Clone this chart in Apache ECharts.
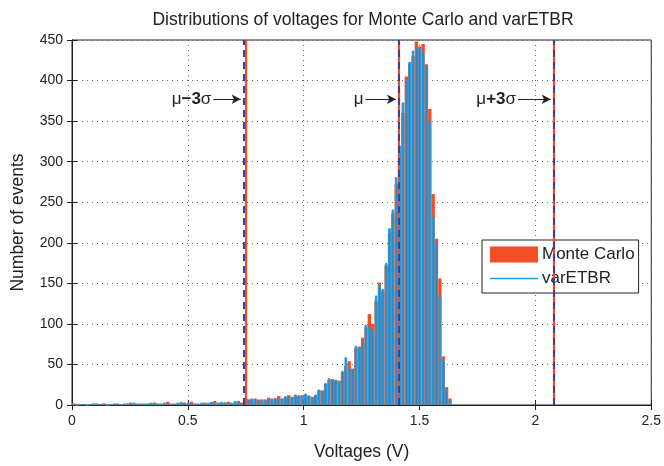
<!DOCTYPE html>
<html>
<head>
<meta charset="utf-8">
<script src="https://cdn.jsdelivr.net/npm/echarts@6/dist/echarts.min.js"></script>
<style>html,body{margin:0;padding:0;background:#fff;}#c{width:664px;height:466px;}</style>
</head>
<body>
<div id="c"></div>
<script>
// Histogram bins
const binStart = 0;
const binWidth = 0.0145;
// Monte Carlo counts per bin
const mcCounts = [2,1,0,1,1,0,2,1,1,2, 1,0,1,2,1,1,2,3,2,1, 2,1,2,2,3,2,1,2,4,2, 1,2,3,3,2,4,2,1,2,3, 2,3,5,3,2,3,4,2,3,5, 3,
  6,7,7,8,6,7,6,9,8,7,11,8,9,12,10,12,
  11,12,13,11,10,12,18,18,26,31,32,31,30,40,48,54,45,70,72,83,96,112,100,128,151,140,172,212,236,272,
  312,360,405,420,430,448,442,445,420,365,260,205,156,60,22,8];
// varETBR counts per bin
const etbrCounts = [1,0,1,1,0,1,1,2,1,1, 0,1,2,1,1,2,1,2,3,2, 1,2,1,3,2,1,2,3,2,1, 2,3,4,2,3,2,1,2,3,2, 3,4,3,2,4,3,2,3,5,4, 2,
  7,6,8,6,7,5,7,8,6,9,7,8,11,9,10,13,
  12,11,14,12,9,13,19,17,27,33,31,31,29,42,59,45,44,73,70,77,99,95,91,135,148,143,175,218,241,281,
  320,373,400,423,437,440,440,435,418,350,232,200,134,55,20,6];
// statistics lines
const mcLines = [0.746, 1.412, 2.075];     // mu-3s, mu, mu+3s (Monte Carlo)
const etbrLines = [0.736, 1.406, 2.075];   // mu-3s, mu, mu+3s (varETBR)
// annotations: [label, arrow start x, arrow end x, y]
const annotations = [
  ['{a|μ}{b|−3}{a|σ}', 0.610, 0.728, 377],
  ['{a|μ}', 1.267, 1.398, 377],
  ['{a|μ}{b|+3}{a|σ}', 1.925, 2.066, 377]
];
const xTicks = {min: 0, max: 2.5, interval: 0.5};
const yTicks = {min: 0, max: 450, interval: 50};

const mcData = mcCounts.map((v, i) => [binStart + binWidth * (i + 0.5), v]);
const etbrData = etbrCounts.map((v, i) => [binStart + binWidth * (i + 0.5), v]);

const FONT = 'Liberation Sans, Arial, sans-serif';
const chart = echarts.init(document.getElementById('c'));
const gridDot = {show: true, lineStyle: {type: [1, 4], color: '#666', width: 1}};

chart.setOption({
  animation: false,
  backgroundColor: '#fff',
  title: {
    text: 'Distributions of voltages for Monte Carlo and varETBR',
    left: 358, top: 6, textAlign: 'center',
    textStyle: {fontFamily: FONT, fontSize: 17.5, fontWeight: 'normal', color: '#222'}
  },
  legend: {
    orient: 'vertical', left: 482, top: 240,
    backgroundColor: '#fff', borderColor: '#222', borderWidth: 1,
    padding: [6, 4, 6, 8], itemGap: 7, itemWidth: 48, itemHeight: 16,
    textStyle: {fontFamily: FONT, fontSize: 17, color: '#222', padding: [0, 0, 0, -1]},
    data: [
      {name: 'Monte Carlo', icon: 'rect', itemStyle: {color: '#f24e23', borderWidth: 0}},
      {name: 'varETBR', icon: 'path://M0,0M0,16M0,7.3L48,7.3L48,8.7L0,8.7Z', itemStyle: {color: '#1e9fe3', borderWidth: 0}}
    ]
  },
  grid: {left: 72, right: 10, top: 40, bottom: 60, show: true, borderColor: '#222', borderWidth: 1},
  xAxis: [
    {
      type: 'value', position: 'bottom', min: xTicks.min, max: xTicks.max, interval: xTicks.interval,
      name: 'Voltages (V)', nameLocation: 'middle', nameGap: 38,
      nameTextStyle: {fontFamily: FONT, fontSize: 17.5, color: '#222'},
      axisLine: {show: true, lineStyle: {color: '#222'}},
      axisTick: {show: true, inside: true, length: 5, lineStyle: {color: '#222'}},
      axisLabel: {fontFamily: FONT, fontSize: 14, color: '#222', margin: 9, formatter: v => String(+v.toFixed(1))},
      splitLine: gridDot
    },
    {
      type: 'value', position: 'top', min: xTicks.min, max: xTicks.max, interval: xTicks.interval,
      axisLine: {show: true, lineStyle: {color: '#222'}},
      axisTick: {show: true, inside: true, length: 5, lineStyle: {color: '#222'}},
      axisLabel: {show: false}, splitLine: {show: false}
    }
  ],
  yAxis: [
    {
      type: 'value', min: yTicks.min, max: yTicks.max, interval: yTicks.interval,
      name: 'Number of events', nameLocation: 'middle', nameGap: 45,
      nameTextStyle: {fontFamily: FONT, fontSize: 17.5, color: '#222'},
      axisLine: {show: true, lineStyle: {color: '#222'}},
      axisTick: {show: true, inside: true, length: 5, lineStyle: {color: '#222'}},
      axisLabel: {fontFamily: FONT, fontSize: 14, color: '#222', margin: 9},
      splitLine: gridDot
    },
    {
      type: 'value', position: 'right', min: yTicks.min, max: yTicks.max, interval: yTicks.interval,
      axisLine: {show: true, lineStyle: {color: '#222'}},
      axisTick: {show: true, inside: true, length: 5, lineStyle: {color: '#222'}},
      axisLabel: {show: false}, splitLine: {show: false}
    }
  ],
  series: [
    {
      name: 'Monte Carlo', type: 'bar', xAxisIndex: 0, yAxisIndex: 0,
      data: mcData, barWidth: '100%', z: 2,
      itemStyle: {color: '#f24e23'}
    },
    {
      name: 'varETBR', type: 'bar', xAxisIndex: 1, yAxisIndex: 0,
      data: etbrData, barWidth: '80%', z: 3,
      itemStyle: {color: 'rgba(36,128,196,0.92)', borderColor: '#1e9fe3', borderWidth: 1}
    },
    {
      name: 'lines', type: 'line', xAxisIndex: 0, yAxisIndex: 0, data: [], z: 5,
      markLine: {
        silent: true, symbol: 'none', label: {show: false}, animation: false,
        data: mcLines.map(x => ({xAxis: x, lineStyle: {color: '#f24a25', width: 2.2, type: 'solid'}}))
          .concat(etbrLines.map(x => ({xAxis: x, lineStyle: {color: '#3a3ea0', width: 2, type: [7, 5]}})))
      }
    },
    {
      name: 'annot', type: 'line', xAxisIndex: 0, yAxisIndex: 0, data: [], z: 6,
      markLine: {
        silent: true, animation: false,
        data: annotations.map(a => [
          {coord: [a[1], a[3]], symbol: 'none',
           label: {show: true, position: 'start', distance: 2, formatter: a[0],
             rich: {a: {fontFamily: FONT, fontSize: 17, color: '#222'},
                    b: {fontFamily: FONT, fontSize: 17, color: '#222', fontWeight: 'bold'}}},
           lineStyle: {color: '#222', width: 1, type: 'solid'}},
          {coord: [a[2], a[3]], symbol: 'arrow', symbolSize: [7, 9]}
        ])
      }
    }
  ]
});
</script>
</body>
</html>
